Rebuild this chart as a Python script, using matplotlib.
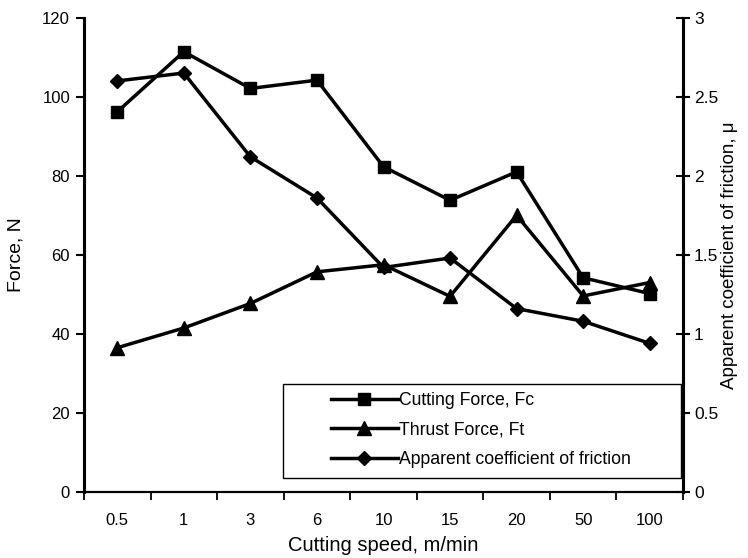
import matplotlib
matplotlib.use("Agg")
import matplotlib.pyplot as plt
from matplotlib.patches import Rectangle

plt.rcParams['font.family'] = ['Liberation Sans', 'DejaVu Sans']

# Data
speeds = ["0.5", "1", "3", "6", "10", "15", "20", "50", "100"]
cutting_force = [96.2, 111.4, 102.1, 104.2, 82.3, 73.8, 81.0, 54.2, 50.2]
thrust_force = [36.5, 41.5, 47.7, 55.7, 57.5, 49.5, 70.0, 49.6, 53.0]
friction = [2.60, 2.65, 2.12, 1.86, 1.42, 1.48, 1.16, 1.08, 0.94]

force_ticks = [0, 20, 40, 60, 80, 100, 120]
mu_ticks = [0, 0.5, 1, 1.5, 2, 2.5, 3]
mu_labels = ["0", "0.5", "1", "1.5", "2", "2.5", "3"]

fig = plt.figure(figsize=(7.48, 5.58), dpi=100)
ax = fig.add_axes([84 / 748, 1 - 492 / 558, 599 / 748, 474.3 / 558])
ax2 = ax.twinx()

x = list(range(len(speeds)))
lw = 2.5
l1, = ax.plot(x, cutting_force, color="black", lw=lw, marker="s", ms=9)
l2, = ax.plot(x, thrust_force, color="black", lw=lw, marker="^", ms=9.5)
l3, = ax2.plot(x, friction, color="black", lw=lw, marker="D", ms=7.5)

ax.set_xlim(-0.5, len(speeds) - 0.5)
ax.set_ylim(0, 120)
ax2.set_ylim(0, 3)

# category labels centred, tick marks on the boundaries
ax.set_xticks([i - 0.5 for i in range(len(speeds) + 1)])
ax.set_xticklabels([])
ax.set_xticks(x, minor=True)
ax.set_xticklabels(speeds, minor=True)
ax.tick_params(axis="x", which="major", direction="out", length=6, width=1.3)
ax.tick_params(axis="x", which="minor", length=0, pad=15, labelsize=12)

ax.set_yticks(force_ticks)
ax.tick_params(axis="y", direction="out", length=6, width=1.5, labelsize=12, pad=4)
ax2.set_yticks(mu_ticks)
ax2.set_yticklabels(mu_labels)
ax2.tick_params(axis="y", direction="inout", length=10, width=1.5, labelsize=12.5, pad=3)

for a in (ax, ax2):
    a.spines["top"].set_visible(False)
    a.spines["left"].set_linewidth(2.2)
    a.spines["right"].set_linewidth(2.2)
    a.spines["bottom"].set_linewidth(1.5)

ax.set_xlabel("Cutting speed, m/min", fontsize=14.5, labelpad=6)
ax.set_ylabel("Force, N", fontsize=14, labelpad=13)
ax2.set_ylabel("Apparent coefficient of friction, \u03bc", fontsize=13.5, labelpad=2)

# legend frame, then legend entries without their own frame
frame = Rectangle((199 / 599, (492 - 477.7) / 474.3), 398 / 599, 93.4 / 474.3,
                  transform=ax.transAxes, fill=True, facecolor="white",
                  edgecolor="black", lw=1.0, zorder=5)
ax2.add_patch(frame)
leg = ax2.legend([l1, l2, l3],
                 ["Cutting Force, Fc", "Thrust Force, Ft", "Apparent coefficient of friction"],
                 loc="center left", bbox_to_anchor=((322 - 84) / 599, (492 - 430) / 474.3),
                 frameon=False, borderpad=0, handlelength=3.8, handletextpad=0.05,
                 labelspacing=0.7, fontsize=12.7, numpoints=1)
leg.set_zorder(6)

fig.savefig("out.png", dpi=100)
